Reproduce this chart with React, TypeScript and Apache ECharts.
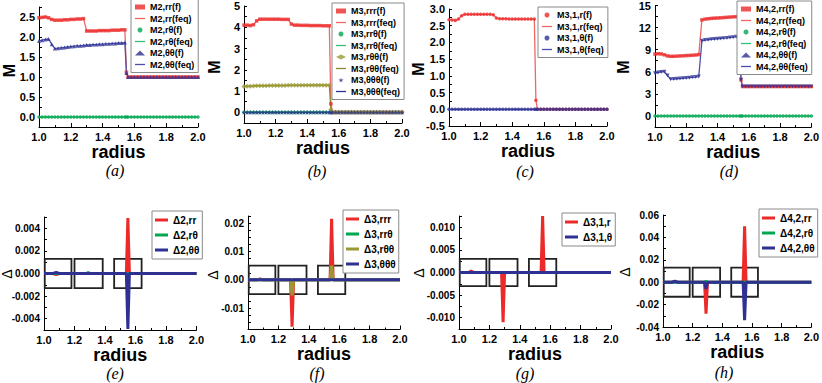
import React, { useEffect, useRef } from 'react';
import * as echarts from 'echarts';

// ---------- data: top row (moments) ----------
const radius = [1.00,1.02,1.04,1.06,1.08,1.10,1.12,1.14,1.16,1.18,1.20,1.22,1.24,1.26,
  1.28,1.30,1.32,1.34,1.36,1.38,1.40,1.42,1.44,1.46,1.48,1.50,1.52,1.54,
  1.55,
  1.56,1.58,1.60,1.62,1.64,1.66,1.68,1.70,1.72,1.74,1.76,1.78,1.80,1.82,1.84,1.86,1.88,1.90,1.92,1.94,1.96,1.98,2.00];

const m2rr = [2.48,2.49,2.50,2.48,2.44,2.42,2.42,2.42,2.43,2.43,2.44,2.44,2.45,2.45,
  2.46,2.15,2.15,2.15,2.15,2.16,2.16,2.16,2.16,2.17,2.17,2.17,2.18,2.18,
  1.12,
  1,1,1,1,1,1,1,1,1,1, 1,1,1,1,1,1,1,1,1,1, 1,1,1];
const m2rt = [0,0,0,0,0,0,0,0,0,0,0,0,0,0, 0,0,0,0,0,0,0,0,0,0,0,0,0,0, 0,
  0,0,0,0,0,0,0,0,0,0, 0,0,0,0,0,0,0,0,0,0, 0,0,0];
const m2tt = [1.90,1.92,1.94,1.95,1.82,1.71,1.72,1.73,1.74,1.75,1.76,1.77,1.78,1.78,
  1.79,1.80,1.80,1.81,1.81,1.82,1.82,1.83,1.83,1.84,1.84,1.85,1.85,1.86,
  1.10,
  1,1,1,1,1,1,1,1,1,1, 1,1,1,1,1,1,1,1,1,1, 1,1,1];

const m3rrr = [4.10,4.10,4.08,4.12,4.30,4.38,4.38,4.38,4.38,4.38,4.38,4.38,4.37,4.37,
  4.37,4.15,4.10,4.10,4.09,4.09,4.09,4.08,4.08,4.08,4.08,4.07,4.07,4.07,
  0.40,
  0,0,0,0,0,0,0,0,0,0, 0,0,0,0,0,0,0,0,0,0, 0,0,0];
const m3rrt = [0,0,0,0,0,0,0,0,0,0,0,0,0,0, 0,0,0,0,0,0,0,0,0,0,0,0,0,0, 0,
  0,0,0,0,0,0,0,0,0,0, 0,0,0,0,0,0,0,0,0,0, 0,0,0];
const m3rtt = [1.22,1.23,1.23,1.24,1.25,1.25,1.25,1.25,1.26,1.26,1.26,1.26,1.26,1.26,
  1.27,1.27,1.27,1.27,1.27,1.27,1.27,1.28,1.28,1.28,1.28,1.28,1.28,1.28,
  0.13,
  0,0,0,0,0,0,0,0,0,0, 0,0,0,0,0,0,0,0,0,0, 0,0,0];
const m3ttt = [0,0,0,0,0,0,0,0,0,0,0,0,0,0, 0,0,0,0,0,0,0,0,0,0,0,0,0,0, 0,
  0,0,0,0,0,0,0,0,0,0, 0,0,0,0,0,0,0,0,0,0, 0,0,0];

const m31r = [2.68,2.67,2.66,2.70,2.80,2.84,2.84,2.84,2.84,2.84,2.84,2.84,2.84,2.84,
  2.83,2.73,2.71,2.71,2.71,2.70,2.70,2.70,2.70,2.70,2.70,2.70,2.70,2.70,
  0.27,
  0,0,0,0,0,0,0,0,0,0, 0,0,0,0,0,0,0,0,0,0, 0,0,0];
const m31t = [0,0,0,0,0,0,0,0,0,0,0,0,0,0, 0,0,0,0,0,0,0,0,0,0,0,0,0,0, 0,
  0,0,0,0,0,0,0,0,0,0, 0,0,0,0,0,0,0,0,0,0, 0,0,0];

const m42rr = [8.40,8.45,8.42,8.30,8.15,8.10,8.10,8.12,8.15,8.17,8.20,8.22,8.25,8.28,
  8.33,13.05,13.15,13.20,13.25,13.28,13.30,13.33,13.36,13.40,13.43,13.46,13.48,13.45,
  4.90,
  4,4,4,4,4,4,4,4,4,4, 4,4,4,4,4,4,4,4,4,4, 4,4,4];
const m42rt = [0,0,0,0,0,0,0,0,0,0,0,0,0,0, 0,0,0,0,0,0,0,0,0,0,0,0,0,0, 0,
  0,0,0,0,0,0,0,0,0,0, 0,0,0,0,0,0,0,0,0,0, 0,0,0];
const m42tt = [5.80,5.90,5.98,6.00,5.50,5.00,5.02,5.05,5.08,5.12,5.15,5.20,5.24,5.28,
  5.35,10.20,10.30,10.35,10.40,10.45,10.48,10.52,10.56,10.60,10.65,10.70,10.75,10.80,
  4.90,
  4,4,4,4,4,4,4,4,4,4, 4,4,4,4,4,4,4,4,4,4, 4,4,4];

// ---------- data: bottom row (deviations) ----------
const deltaRadius = [1.00,1.06,1.08,1.10,1.28,1.29,1.30,1.54,1.55,1.56,2.00];
const d2rr = [0,0,-0.0001,0,0,0,0,0,0.0049,0,0];
const d2rt = [0,0,0,0,0,0.0001,0,0,0,0,0];
const d2tt = [0,0,0.0001,0,0,0,0,0,-0.0049,0,0];
const d3rrr = [0,0,0.0003,0,0,-0.0165,0,0,0.0215,0,0];
const d3rrt = [0,0,0,0,0,-0.001,0,0,0.001,0,0];
const d3rtt = [0,0,0.0002,0,0,-0.0055,0,0,0.005,0,0];
const d3ttt = [0,0,0,0,0,0,0,0,0,0,0];
const d31r = [0,0,0.0003,0,0,-0.011,0,0,0.0125,0,0];
const d31t = [0,0,0,0,0,0,0,0,0,0,0];
const d42rr = [0,0,0.0005,0,0,-0.028,0,0,0.05,0,0];
const d42rt = [0,0,0,0,0,0.001,0,0,0,0,0];
const d42tt = [0,0,0.0008,0,0,-0.006,0,0,-0.034,0,0];

// boxes drawn in the deviation panels (radius ranges) and their half heights
const boxRanges = [[1.005, 1.18], [1.2, 1.385], [1.46, 1.64]];
const boxHalf = [0.0013, 0.005, 0.003, 0.013];

// axis extents [min, max, tick interval, label step, digits]
const yAxes = [
  [-0.25, 2.75, 0.25, 0.5, 1],
  [-0.5, 5, 0.5, 1, 0],
  [-0.5, 3.0, 0.25, 0.5, 1],
  [-1.5, 15, 1.5, 3, 0],
  [-0.005, 0.005, 0.001, 0.002, 3],
  [-0.0175, 0.0225, 0.0025, 0.01, 2],
  [-0.0125, 0.0125, 0.0025, 0.005, 3],
  [-0.04, 0.06, 0.01, 0.02, 2],
];

const panelLetters = ['(a)', '(b)', '(c)', '(d)', '(e)', '(f)', '(g)', '(h)'];

// ---------- styling / layout ----------
const FONT = '"Liberation Sans", Arial, sans-serif';
const SERIF = '"Liberation Serif", "Times New Roman", serif';
const RED = '#ec2a2a', RED_L = '#f26565';
const BLUE = '#2e3192', BLUE_L = '#4b4fae';
const GREEN = '#00a651', GREEN_L = '#35c07a';
const OLIVE = '#9a9833', OLIVE_L = '#8c8a30';
const STAR = 'path://M50,0 L61,35 L98,35 L68,57 L79,91 L50,70 L21,91 L32,57 L2,35 L39,35 Z';
const THIN_LINE = 'path://M0,0 L20,0 L20,2.6 L0,2.6 Z';
const THICK_LINE = 'path://M0,0 L13,0 L13,3 L0,3 Z';

const grids = [
  { left: 39, top: 7, width: 159, height: 120 },
  { left: 244, top: 6, width: 158, height: 117 },
  { left: 449, top: 9, width: 158, height: 117 },
  { left: 655, top: 5, width: 158.5, height: 122 },
  { left: 44, top: 217, width: 152.5, height: 113 },
  { left: 248, top: 216, width: 152, height: 113.5 },
  { left: 459, top: 216, width: 152, height: 113 },
  { left: 663, top: 215, width: 151, height: 112 },
];

const legendPos = [
  { left: 131, top: -1 }, { left: 332, top: 3 }, { left: 538, top: 7 }, { left: 737, top: 1 },
  { left: 152, top: 211 }, { left: 343, top: 210 }, { left: 562, top: 213 }, { left: 759, top: 209 },
];
const letterPos = [[115, 170], [317, 171], [525, 171], [729, 171], [115, 373], [317, 373], [525, 373], [724, 372]];
const mPos = [[9, 70.5], [214.5, 67], [418, 69], [623, 67]];
const dPos = [[7, 274], [212.5, 275], [419, 273], [624.5, 272]];

function pair(xs: number[], ys: number[]) {
  return xs.map((x, i) => [x, ys[i]]);
}
function isMult(v: number, step: number) {
  const r = v / step;
  return Math.abs(r - Math.round(r)) < 1e-6;
}

type TopSub = { name: string; vals: number[]; color: string; lc: string; symbol: string; size: number; rot?: number };
type BotSub = { name: string; vals: number[]; color: string };

const topPanels: TopSub[][] = [
  [
    { name: 'M2,rr', vals: m2rr, color: RED, lc: RED_L, symbol: 'rect', size: 3.5 },
    { name: 'M2,rθ', vals: m2rt, color: GREEN, lc: GREEN_L, symbol: 'circle', size: 3.5 },
    { name: 'M2,θθ', vals: m2tt, color: BLUE, lc: BLUE_L, symbol: 'triangle', size: 4 },
  ],
  [
    { name: 'M3,rrr', vals: m3rrr, color: RED, lc: RED_L, symbol: 'rect', size: 3.5 },
    { name: 'M3,rrθ', vals: m3rrt, color: GREEN, lc: GREEN_L, symbol: 'circle', size: 3.5 },
    { name: 'M3,rθθ', vals: m3rtt, color: OLIVE, lc: OLIVE_L, symbol: 'diamond', size: 5 },
    { name: 'M3,θθθ', vals: m3ttt, color: BLUE, lc: BLUE, symbol: STAR, size: 5 },
  ],
  [
    { name: 'M3,1,r', vals: m31r, color: RED, lc: RED_L, symbol: 'circle', size: 3.5 },
    { name: 'M3,1,θ', vals: m31t, color: BLUE, lc: BLUE_L, symbol: 'circle', size: 3.5 },
  ],
  [
    { name: 'M4,2,rr', vals: m42rr, color: RED, lc: RED_L, symbol: 'rect', size: 3.5 },
    { name: 'M4,2,rθ', vals: m42rt, color: GREEN, lc: GREEN_L, symbol: 'circle', size: 3.5 },
    { name: 'M4,2,θθ', vals: m42tt, color: BLUE, lc: BLUE_L, symbol: 'triangle', size: 4, rot: 180 },
  ],
];

const botPanels: BotSub[][] = [
  [
    { name: 'Δ2,rr', vals: d2rr, color: RED },
    { name: 'Δ2,rθ', vals: d2rt, color: GREEN },
    { name: 'Δ2,θθ', vals: d2tt, color: BLUE },
  ],
  [
    { name: 'Δ3,rrr', vals: d3rrr, color: RED },
    { name: 'Δ3,rrθ', vals: d3rrt, color: GREEN },
    { name: 'Δ3,rθθ', vals: d3rtt, color: OLIVE },
    { name: 'Δ3,θθθ', vals: d3ttt, color: BLUE },
  ],
  [
    { name: 'Δ3,1,r', vals: d31r, color: RED },
    { name: 'Δ3,1,θ', vals: d31t, color: BLUE },
  ],
  [
    { name: 'Δ4,2,rr', vals: d42rr, color: RED },
    { name: 'Δ4,2,rθ', vals: d42rt, color: GREEN },
    { name: 'Δ4,2,θθ', vals: d42tt, color: BLUE },
  ],
];

function buildOption() {
  const xAxis: any[] = [];
  const yAxis: any[] = [];
  const series: any[] = [];
  const legend: any[] = [];
  const graphic: any[] = [];

  grids.forEach((_, g) => {
    const top = g < 4;
    xAxis.push({
      type: 'value', gridIndex: g, min: 1, max: 2, interval: 0.2,
      axisLine: { onZero: false, lineStyle: { color: '#000', width: 1 } },
      axisTick: { inside: true, length: 4, lineStyle: { color: '#000' } },
      minorTick: { show: true, splitNumber: 2, length: 2, lineStyle: { color: '#000' } },
      splitLine: { show: false },
      axisLabel: {
        color: '#000', fontSize: 11, fontWeight: 'bold', fontFamily: FONT, margin: 4,
        formatter: (v: number) => v.toFixed(1),
      },
      name: 'radius', nameLocation: 'middle', nameGap: top ? 13 : 12,
      nameTextStyle: { fontSize: 18, fontWeight: 'bold', fontFamily: FONT, color: '#000', lineHeight: 18 },
    });
    const [mn, mx, iv, step, dg] = yAxes[g];
    yAxis.push({
      type: 'value', gridIndex: g, min: mn, max: mx, interval: iv,
      axisLine: { show: true, onZero: false, lineStyle: { color: '#000', width: 1 } },
      axisTick: { show: true, inside: true, length: 3, lineStyle: { color: '#000' } },
      splitLine: { show: false },
      axisLabel: {
        color: '#000', fontSize: top ? 11 : 10, fontWeight: 'bold', fontFamily: FONT, margin: 4,
        formatter: (v: number) => {
          if (!isMult(v, step)) return '';
          const vv = Math.abs(v) < 1e-12 ? 0 : v;
          return vv.toFixed(dg);
        },
      },
    });
    const [lx, ly] = letterPos[g];
    graphic.push({
      type: 'text', x: lx, y: ly, silent: true,
      style: {
        text: panelLetters[g], fontFamily: SERIF, fontSize: 16, fontStyle: 'italic', fill: '#000',
        align: 'center', verticalAlign: 'middle', lineHeight: 16,
      },
    });
  });

  topPanels.forEach((subs, g) => {
    const items: any[] = [];
    subs.forEach((s) => {
      const data = pair(radius, s.vals);
      series.push({
        type: 'line', name: s.name + '(feq)', xAxisIndex: g, yAxisIndex: g, data,
        symbol: 'none', lineStyle: { color: s.lc, width: 1.3 }, itemStyle: { color: s.lc },
        z: 2, silent: true,
      });
      series.push({
        type: 'scatter', name: s.name + '(f)', xAxisIndex: g, yAxisIndex: g, data,
        symbol: s.symbol, symbolSize: s.size, symbolRotate: s.rot || 0,
        itemStyle: { color: s.color }, z: 3, silent: true,
      });
      items.push({ name: s.name + '(f)' }, { name: s.name + '(feq)', icon: THIN_LINE });
    });
    legend.push({
      ...legendPos[g], orient: 'vertical', data: items, selectedMode: false,
      itemWidth: 10, itemHeight: 5, itemGap: 1.5, padding: [3, 4, 3, 4],
      borderColor: '#8a8a8a', borderWidth: 1, backgroundColor: '#fff',
      textStyle: { fontSize: 9, fontWeight: 'bold', fontFamily: FONT, color: '#000', lineHeight: 10 },
    });
    const [mx0, my0] = mPos[g];
    graphic.push({
      type: 'text', x: mx0, y: my0, rotation: Math.PI / 2, silent: true,
      style: { text: 'M', fontSize: 16, fontWeight: 'bold', fontFamily: FONT, fill: '#000', align: 'center', verticalAlign: 'middle' },
    });
  });

  botPanels.forEach((subs, k) => {
    const g = k + 4;
    const items: any[] = [];
    subs.forEach((s, i) => {
      const ser: any = {
        type: 'line', name: s.name, xAxisIndex: g, yAxisIndex: g,
        data: pair(deltaRadius, s.vals), symbol: 'none',
        lineStyle: { color: s.color, width: 3 }, itemStyle: { color: s.color },
        z: 2 + i * 0.01, silent: true,
      };
      if (i === 0) {
        const h = boxHalf[k];
        ser.markArea = {
          silent: true,
          itemStyle: { color: 'rgba(0,0,0,0)', borderColor: '#222', borderWidth: 1.8 },
          label: { show: false },
          data: boxRanges.map(([x0, x1]) => [{ coord: [x0, -h] }, { coord: [x1, h] }]),
        };
      }
      series.push(ser);
      items.push({ name: s.name, icon: THICK_LINE });
    });
    legend.push({
      ...legendPos[g], orient: 'vertical', data: items, selectedMode: false,
      itemWidth: 13, itemHeight: 8, itemGap: 5, padding: [4, 3, 4, 3],
      borderColor: '#8a8a8a', borderWidth: 1, backgroundColor: '#fff',
      textStyle: { fontSize: 10, fontWeight: 'bold', fontFamily: FONT, color: '#000', lineHeight: 10 },
    });
    const [dx, dy] = dPos[k];
    graphic.push({
      type: 'text', x: dx, y: dy, rotation: Math.PI / 2, silent: true,
      style: { text: 'Δ', fontSize: 14, fontFamily: FONT, fill: '#000', align: 'center', verticalAlign: 'middle' },
    });
  });

  return {
    animation: false,
    backgroundColor: '#fff',
    grid: grids,
    xAxis, yAxis, series, legend, graphic,
  };
}

export default function App() {
  const ref = useRef<HTMLDivElement>(null);
  useEffect(() => {
    document.body.style.margin = '0';
    const chart = echarts.init(ref.current as HTMLDivElement, null, { renderer: 'svg' });
    chart.setOption(buildOption() as any);
    return () => chart.dispose();
  }, []);
  return <div ref={ref} style={{ width: 822, height: 383 }} />;
}
